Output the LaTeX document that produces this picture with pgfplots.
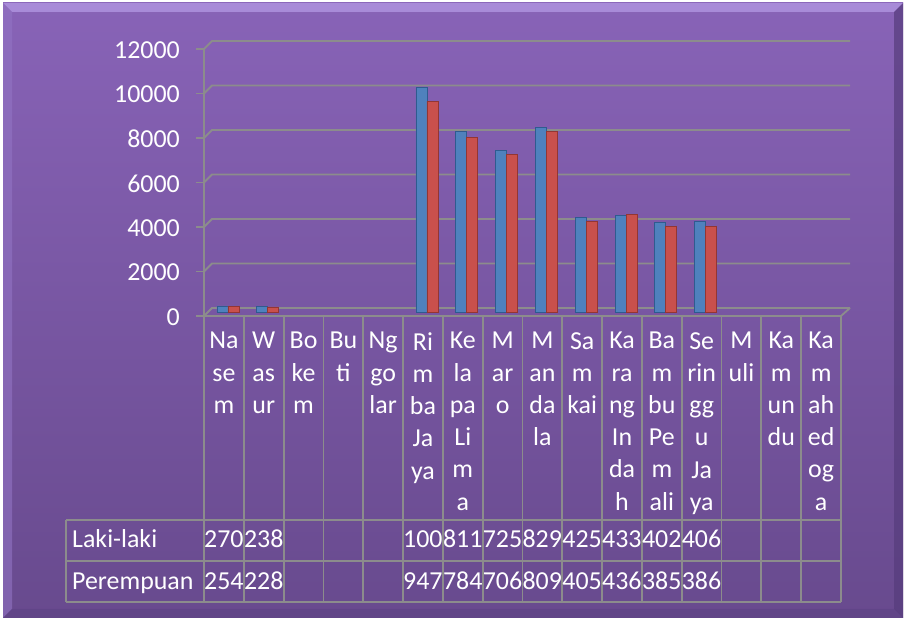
\documentclass[border=0pt]{standalone}
\usepackage{pgfplots}
\pgfplotsset{compat=1.18}
\usepackage{fontspec}
\setmainfont{Carlito}
\definecolor{gridgray}{HTML}{8C8C8C}
\definecolor{bgTop}{HTML}{8863B7}
\definecolor{bgBot}{HTML}{684A8E}
\definecolor{edgeLight}{HTML}{A88BD8}
\definecolor{edgeLeft}{HTML}{9274C4}
\definecolor{edgeDark}{HTML}{563C7C}
\definecolor{barBlue}{HTML}{4F81BD}
\definecolor{barBlueEdge}{HTML}{2F5B8F}
\definecolor{barRed}{HTML}{C9504C}
\definecolor{barRedEdge}{HTML}{933633}
\begin{document}
\begin{tikzpicture}[x=1bp,y=1bp]
\useasboundingbox (0,0) rectangle (906,620);
% background frame
\fill[white] (0,0) rectangle (906,620);
\shade[top color=bgTop, bottom color=bgBot] (3,2) rectangle (903,617);
\fill[edgeLight] (3,617) -- (903,617) -- (894,608) -- (12,608) -- cycle;
\fill[edgeLeft, opacity=0.6] (3,617) -- (12,608) -- (12,11) -- (3,2) -- cycle;
\fill[edgeDark, opacity=0.7] (903,617) -- (894,608) -- (894,11) -- (903,2) -- cycle;
\fill[edgeDark, opacity=0.35] (3,2) -- (12,11) -- (894,11) -- (903,2) -- cycle;
% back gridlines (3D offset) and y tick marks
\foreach \v in {0,1,2,3,4,5,6}{
  \pgfmathsetmacro{\Y}{304+\v*267/6}
  \draw[gridgray, line width=1.8bp] (204,\Y) -- (212,\Y+8) -- (850,\Y+8);
  \draw[gridgray, line width=1.8bp] (196,\Y) -- (204,\Y);
}
% floor front edge
\draw[gridgray, line width=1.8bp] (204,304) -- (841,304) -- (850,312);
\begin{axis}[
  at={(204bp,304bp)}, anchor=south west,
  scale only axis, width=637bp, height=267bp,
  xmin=-0.5, xmax=15.5, ymin=0, ymax=12000,
  clip=false,
  axis line style={draw=none},
  xtick={0,...,15},
  xticklabels={Na\\se\\m, W\\as\\ur, Bo\\ke\\m, Bu\\ti, Ng\\go\\lar, Ri\\m\\ba\\Ja\\ya, Ke\\la\\pa\\Li\\m\\a, M\\ar\\o, M\\an\\da\\la, Sa\\m\\kai, Ka\\ra\\ng\\In\\da\\h, Ba\\m\\bu\\Pe\\m\\ali, Se\\rin\\gg\\u\\Ja\\ya, M\\uli, Ka\\m\\un\\du, Ka\\m\\ah\\ed\\og\\a},
  xtick style={draw=none},
  ytick style={draw=none},
  xtick pos=bottom, ytick pos=left,
  xticklabel style={anchor=north, inner sep=0pt, align=center, text=white,
    font=\fontsize{26}{32.4}\selectfont, yshift=-16bp},
  ytick={0,2000,...,12000},
  scaled y ticks=false,
  yticklabel style={anchor=east, inner sep=0pt, text=white,
    font=\fontsize{26}{31}\selectfont, xshift=-24bp, yshift=-1bp},
  /pgf/number format/set thousands separator={},
  /pgf/number format/assume math mode=true,
]
\addplot[ybar, bar width=11bp, bar shift=-1.5bp, yshift=4bp, fill=barBlue, draw=barBlueEdge, line width=0.8bp]
  coordinates {(0,270) (1,238) (5,10081) (6,8115) (7,7258) (8,8295) (9,4258) (10,4335) (11,4025) (12,4062)};
\addplot[ybar, bar width=11bp, bar shift=9.5bp, yshift=4bp, fill=barRed, draw=barRedEdge, line width=0.8bp]
  coordinates {(0,254) (1,228) (5,9477) (6,7845) (7,7065) (8,8094) (9,4052) (10,4365) (11,3855) (12,3862)};
\end{axis}
% y axis line
\draw[gridgray, line width=1.8bp] (204,304) -- (204,571);
% category separators and table
\foreach \k in {0,...,16}{
  \pgfmathsetmacro{\X}{204+39.8*\k}
  \draw[gridgray, line width=1.8bp] (\X,304) -- (\X,18);
}
\draw[gridgray, line width=1.8bp] (66,100) -- (841,100);
\draw[gridgray, line width=1.8bp] (66,59) -- (841,59);
\draw[gridgray, line width=1.8bp] (66,18) -- (841,18);
\draw[gridgray, line width=1.8bp] (66,18) -- (66,100);
\begin{scope}[every node/.style={text=white, inner sep=0pt, font=\fontsize{26}{31}\selectfont}]
\node[anchor=base west] at (72,72) {Laki-laki};
\node[anchor=base west] at (72,30) {Perempuan};
\foreach \k/\t in {0/270,1/238,5/100,6/811,7/725,8/829,9/425,10/433,11/402,12/406}{
  \node[anchor=base] at ({204+39.8*(\k+0.5)},72) {\t};
}
\foreach \k/\t in {0/254,1/228,5/947,6/784,7/706,8/809,9/405,10/436,11/385,12/386}{
  \node[anchor=base] at ({204+39.8*(\k+0.5)},30) {\t};
}
\end{scope}
\end{tikzpicture}
\end{document}
